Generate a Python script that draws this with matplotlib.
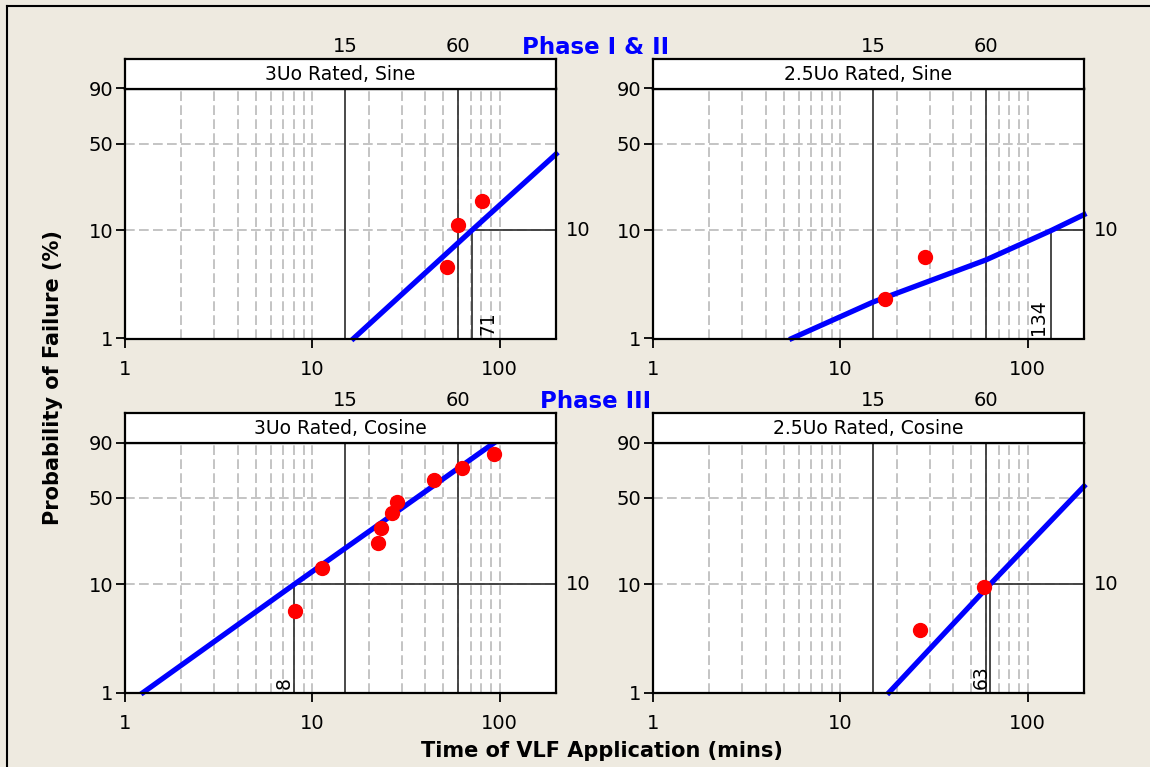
import numpy as np
import matplotlib
matplotlib.use('Agg')
import matplotlib.pyplot as plt
from matplotlib.lines import Line2D
from matplotlib.ticker import NullLocator

# ── Data ─────────────────────────────────────────────────────────────────
titles = ['3Uo Rated, Sine', '2.5Uo Rated, Sine',
          '3Uo Rated, Cosine', '2.5Uo Rated, Cosine']

# observed failures: time (mins) and probability of failure (%)
fail_x = [
    [52.5, 59.6, 80.1],
    [17.3, 28.2],
    [8.1, 11.2, 22.5, 23.4, 26.5, 28.4, 44.5, 62.9, 93.2],
    [26.5, 58.7],
]
fail_p = [
    [4.65, 11.1, 18.1],
    [2.35, 5.75],
    [5.7, 14.1, 22.7, 30.3, 39.1, 46.9, 64.2, 73.3, 83.2],
    [3.8, 9.4],
]

# fitted Weibull line, read at a few points
fit_x = [[16.6, 71, 200], [5.5, 15, 60, 134, 200], [1.25, 8, 94], [18.2, 63, 200]]
fit_p = [[1, 10, 42.5], [1, 2.2, 5.4, 10, 13.8], [1, 10, 90], [1, 10, 58.9]]

# time to 10 % failures (crosshair + label)
t10 = [71, 134, 8, 63]
t10_dx = [12, -9.5, -7, -6.5]      # label offset from line, points

ref_times = [15, 60]
x_ticks = [1, 10, 100]
y_ticks = [1, 10, 50, 90]
grid_x = [2, 3, 4, 5, 6, 7, 8, 9, 10, 20, 30, 40, 50, 60, 70, 80, 90, 100]
grid_y = [10, 50]
XMIN, XMAX = 1, 200
YMIN, YMAX = 1, 90


# ── Weibull probability scale ────────────────────────────────────────────
def wb(p):
    p = np.asarray(p, dtype=float) / 100.0
    with np.errstate(all='ignore'):
        return np.log(-np.log(1.0 - p))


def wb_inv(w):
    w = np.asarray(w, dtype=float)
    with np.errstate(all='ignore'):
        return 100.0 * (1.0 - np.exp(-np.exp(w)))


# ── Layout (figure fractions) ────────────────────────────────────────────
W_PX, H_PX = 1150, 767
BG = '#eeeae0'
BLUE = '#0000ff'
RED = '#ff0000'
REF = '#3a3a3a'
GRID = '#c4c4c4'

col_left = [125 / W_PX, 653 / W_PX]
row_bot = [1 - 338.5 / H_PX, 1 - 692.5 / H_PX]
AX_W = 431 / W_PX
AX_H = 250 / H_PX
STRIP_H = 29.5 / H_PX

fig = plt.figure(figsize=(W_PX / 100, H_PX / 100), dpi=100)
fig.patch.set_facecolor(BG)

for k in range(4):
    r, c = divmod(k, 2)
    ax = fig.add_axes([col_left[c], row_bot[r], AX_W, AX_H])
    ax.set_facecolor('white')
    ax.set_xscale('log')
    ax.set_yscale('function', functions=(wb, wb_inv))
    ax.set_xlim(XMIN, XMAX)
    ax.set_ylim(YMIN, YMAX)

    # dashed grid
    for gx in grid_x:
        ax.axvline(gx, color=GRID, lw=1.4, dashes=(5, 2.2), zorder=1)
    for gy in grid_y:
        ax.axhline(gy, color=GRID, lw=1.4, dashes=(5, 2.2), zorder=1)

    # reference lines at 15 and 60 min
    for rt in ref_times:
        ax.axvline(rt, color=REF, lw=1.3, zorder=2)
        ax.annotate(str(rt), xy=(rt, 1), xycoords=('data', 'axes fraction'),
                    xytext=(0, 30.5), textcoords='offset points',
                    ha='center', va='center', fontsize=14, color='black',
                    annotation_clip=False)

    # 10 % crosshair
    t = t10[k]
    ax.plot([t, t], [YMIN, 10], color=REF, lw=1.3, zorder=2)
    ax.plot([t, XMAX], [10, 10], color=REF, lw=1.3, zorder=2)
    ax.annotate(str(t), xy=(t, YMIN), xytext=(t10_dx[k], 2.5),
                textcoords='offset points', rotation=90,
                ha='center', va='bottom', fontsize=13.5, color='black')
    ax.annotate('10', xy=(1, 10), xycoords=('axes fraction', 'data'),
                xytext=(7, 0), textcoords='offset points',
                ha='left', va='center', fontsize=14, annotation_clip=False)

    # fitted line + failures
    ax.plot(fit_x[k], fit_p[k], color=BLUE, lw=3.8, zorder=4,
            solid_capstyle='projecting', clip_on=False)
    ax.plot(fail_x[k], fail_p[k], 'o', color=RED, ms=10, mec=RED, zorder=5)

    # ticks
    ax.set_xticks(x_ticks, labels=[str(v) for v in x_ticks])
    ax.set_yticks(y_ticks, labels=[str(v) for v in y_ticks])
    ax.xaxis.set_minor_locator(NullLocator())
    ax.yaxis.set_minor_locator(NullLocator())
    ax.tick_params(axis='both', direction='out', length=6.5, width=1.3,
                   labelsize=14, colors='black')
    ax.tick_params(axis='x', pad=9)
    ax.tick_params(axis='y', pad=2)
    for sp in ax.spines.values():
        sp.set_linewidth(1.6)
        sp.set_zorder(6)

    # strip header
    sax = fig.add_axes([col_left[c], row_bot[r] + AX_H, AX_W, STRIP_H])
    sax.set_facecolor('white')
    sax.set_xticks([])
    sax.set_yticks([])
    for sp in sax.spines.values():
        sp.set_linewidth(1.6)
    sax.text(0.5, 0.48, titles[k], ha='center', va='center', fontsize=13.5,
             transform=sax.transAxes)

# ── Titles / axis labels ─────────────────────────────────────────────────
fig.text(595.5 / W_PX, 1 - 47 / H_PX, 'Phase I & II', ha='center', va='center',
         fontsize=16.5, fontweight='bold', color=BLUE)
fig.text(595.5 / W_PX, 1 - 401 / H_PX, 'Phase III', ha='center', va='center',
         fontsize=16.5, fontweight='bold', color=BLUE)
fig.text(53 / W_PX, 1 - 377.5 / H_PX, 'Probability of Failure (%)',
         ha='center', va='center', rotation=90, fontsize=15, fontweight='bold')
fig.text(602 / W_PX, 1 - 751 / H_PX, 'Time of VLF Application (mins)',
         ha='center', va='center', fontsize=15, fontweight='bold')

# outer frame (top and left edges only)
fx, fy = 7 / W_PX, 1 - 6 / H_PX
fig.add_artist(Line2D([fx, fx], [0, fy], color='black', lw=1.5))
fig.add_artist(Line2D([fx, 1], [fy, fy], color='black', lw=1.5))

fig.savefig('out.png', dpi=100, facecolor=fig.get_facecolor())
